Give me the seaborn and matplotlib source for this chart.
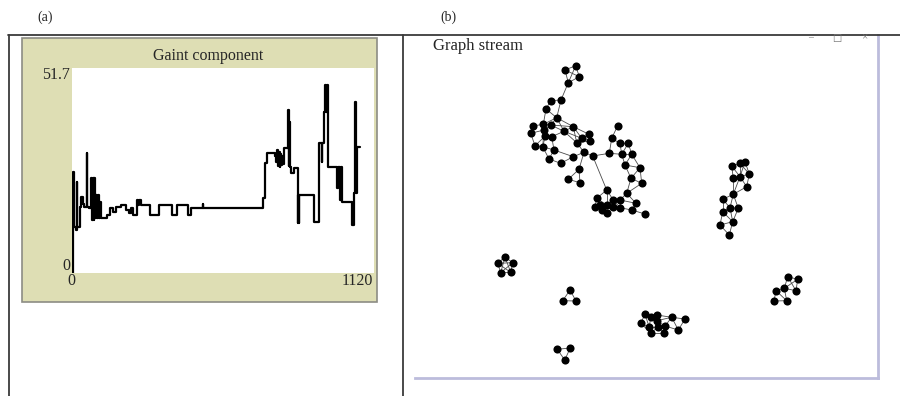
import matplotlib
matplotlib.use('Agg')
import matplotlib.pyplot as plt
import seaborn as sns
import pandas as pd
from matplotlib.patches import Rectangle
from matplotlib.lines import Line2D

sns.set_style('white')
plt.rcParams['font.family'] = ['Liberation Serif', 'DejaVu Serif']

# (a) tamanho da componente gigante ao longo dos ticks
ticks = [0, 2, 5, 8, 14, 17, 20, 30, 35, 40, 46, 54, 57, 62, 72, 76, 78, 80, 82,
         85, 88, 90, 93, 96, 99, 102, 106, 128, 140, 152, 165, 183, 200, 210, 218,
         228, 240, 245, 250, 255, 262, 288, 322, 370, 388, 430, 442, 484, 487, 708,
         714, 722, 752, 758, 761, 764, 767, 770, 773, 776, 779, 782, 786, 800, 803,
         806, 809, 812, 825, 837, 839, 841, 843, 899, 917, 926, 929, 935, 940, 943,
         946, 949, 951, 982, 985, 994, 997, 1003, 1040, 1044, 1050, 1054, 1058, 1067]
giant = [0.0, 14.2, 25.5, 11.7, 10.8, 23.0, 11.7, 16.7, 19.2, 17.5, 16.7, 30.2, 16.7,
         16.3, 23.9, 13.4, 23.9, 13.4, 23.9, 19.7, 13.8, 19.7, 13.8, 19.7, 13.8, 18.0,
         13.8, 14.6, 16.3, 15.5, 16.7, 17.1, 15.9, 15.1, 16.3, 14.6, 18.4, 17.1, 18.4,
         17.1, 17.1, 14.6, 17.1, 14.6, 17.1, 14.6, 16.4, 17.3, 16.4, 18.9, 27.7, 30.3,
         29.4, 28.0, 31.0, 27.0, 30.5, 26.8, 30.0, 27.2, 29.6, 27.5, 31.5, 41.1, 27.0,
         38.0, 26.8, 25.1, 26.4, 12.5, 19.7, 12.5, 19.7, 12.9, 32.7, 28.0, 32.7, 40.7,
         47.4, 40.7, 47.4, 40.7, 26.8, 21.5, 26.8, 18.5, 26.8, 18.0, 12.1, 20.1, 43.2,
         20.1, 31.9, 31.9]
x_max = 1120
y_max = 51.7

# (b) posicoes dos nos do grafo (coordenadas da janela)
node_x = [565, 575.7, 579.3, 568.3,
          561, 550.7, 546, 556.7, 532.7, 530.7, 543.3, 550.7, 544, 545.3, 551.7, 535,
          542.7, 554, 549, 560.7, 564, 573.3, 573.3, 581.7, 589, 590, 576.7, 584, 592.7,
          579, 568.3, 580,
          617.7, 611.7, 609.3, 620, 628.3, 621.7, 631.7, 625, 640, 631, 641.7, 626.7,
          606.7, 596.7, 600, 606.7, 613.3, 620, 595, 601.7, 607.3, 613.3, 620, 631.7,
          636, 645,
          731.7, 740, 745, 749.3, 733.3, 740, 746.7, 733.3, 722.7, 730, 738.3, 722.7,
          732.7, 720, 729.3,
          505, 497.7, 512.7, 500.7, 510.7,
          570, 562.7, 576,
          557.3, 570.3, 564.7,
          645, 650.7, 656.7, 656.7, 665, 671.7, 685, 678.3, 640.7, 649.3, 650.7, 658.3, 664,
          787.7, 797.7, 784.3, 796, 776, 774, 786.7]
node_y = [70, 65.7, 76.7, 82.7,
          100, 100.7, 109, 117.7, 126, 133.3, 124.3, 125, 130, 136, 136.7, 145.7,
          146.7, 150, 159, 163.3, 131.3, 126.7, 156.7, 138.3, 134.3, 141, 142.7, 152.3, 156,
          169.3, 179.3, 182.7,
          125.7, 138.3, 153.3, 143.3, 143.3, 154.3, 154.3, 165, 167.7, 178.3, 183.3, 193.3,
          190, 198.3, 205, 205, 200, 200, 206.7, 210, 212.7, 206.7, 207.7, 210,
          203.3, 214,
          166, 163.3, 161.7, 174, 178.3, 176.7, 186.7, 194.3, 199.3, 207.7, 208.3, 211.7,
          221.7, 225, 235,
          257, 263.3, 262.7, 272.7, 272.3,
          290, 300.7, 301,
          349.3, 348, 360,
          314.3, 316.7, 315, 320.7, 326, 317.3, 319, 330, 323.3, 327.3, 332.7, 327.3, 332.7,
          276.7, 279.3, 288.3, 290.7, 290.7, 301, 300.7]
edges = [(0, 1), (1, 2), (0, 2), (0, 3), (2, 3), (1, 3), (3, 4),
         (4, 5), (4, 7), (5, 6), (6, 7), (6, 10), (7, 10), (7, 11), (7, 20), (7, 21),
         (8, 10), (8, 9), (9, 12), (10, 11), (10, 12), (11, 12), (11, 20), (12, 13),
         (13, 14), (13, 15), (14, 17), (15, 16), (16, 17), (16, 18), (17, 18), (18, 19),
         (19, 22), (17, 22), (14, 20), (20, 21), (20, 26), (21, 23), (21, 24), (23, 24),
         (23, 25), (24, 25), (25, 26), (26, 27), (27, 28), (22, 27), (23, 26), (9, 15),
         (12, 16), (13, 16), (11, 21), (21, 26), (20, 23), (27, 29), (29, 30), (29, 31),
         (30, 31), (28, 34), (28, 44),
         (32, 33), (33, 34), (33, 35), (35, 36), (35, 37), (36, 38), (37, 38), (37, 39),
         (38, 39), (38, 40), (39, 40), (39, 41), (40, 41), (40, 42), (41, 42), (41, 43),
         (42, 43), (34, 37), (36, 37),
         (43, 49), (43, 56), (44, 45), (44, 47), (44, 48), (45, 46), (45, 50), (46, 47),
         (46, 51), (47, 48), (47, 52), (48, 49), (48, 53), (49, 54), (49, 56), (50, 51),
         (51, 52), (52, 53), (53, 54), (54, 55), (55, 56), (55, 57), (46, 52), (47, 53),
         (48, 54), (45, 47),
         (58, 59), (59, 60), (58, 62), (59, 63), (60, 61), (59, 61), (61, 63), (62, 63),
         (61, 64), (63, 64), (62, 65), (63, 65), (64, 65), (65, 66), (65, 67), (65, 68),
         (66, 67), (67, 68), (66, 69), (67, 69), (67, 70), (68, 70), (69, 70), (69, 71),
         (70, 71), (71, 72), (70, 72), (60, 63), (58, 63),
         (73, 74), (73, 75), (73, 76), (73, 77), (74, 75), (74, 76), (74, 77), (75, 76),
         (75, 77), (76, 77),
         (78, 79), (78, 80), (79, 80),
         (81, 82), (81, 83), (82, 83),
         (84, 85), (85, 86), (84, 92), (84, 93), (85, 93), (86, 87), (85, 87), (87, 95),
         (87, 89), (86, 89), (89, 90), (89, 91), (90, 91), (88, 91), (88, 89), (87, 88),
         (92, 93), (93, 94), (93, 95), (94, 95), (95, 96), (96, 88), (94, 96), (84, 87),
         (86, 95), (92, 94),
         (97, 98), (97, 99), (98, 99), (98, 100), (99, 100), (99, 101), (101, 102),
         (101, 103), (102, 103), (99, 103), (97, 100)]

W, H = 900, 396


def fx(px):
    return px / W


def fy(py):
    return 1 - py / H


fig = plt.figure(figsize=(9, 3.96), dpi=100)

# linhas da tabela
line_col = '#3a3a3a'
fig.add_artist(Line2D([fx(8), 1], [fy(35), fy(35)], color=line_col, lw=1.3))
fig.add_artist(Line2D([fx(9), fx(9)], [fy(35), 0], color=line_col, lw=1.3))
fig.add_artist(Line2D([fx(403), fx(403)], [fy(35), 0], color=line_col, lw=1.3))

fig.text(fx(45), fy(17), '(a)', ha='center', va='center', fontsize=10)
fig.text(fx(448), fy(17), '(b)', ha='center', va='center', fontsize=10)

# Painel (a): caixa bege do plot
fig.add_artist(Rectangle((fx(22), fy(302)), (377 - 22) / W, (302 - 38) / H,
                         transform=fig.transFigure, facecolor='#dedeb4',
                         edgecolor='#8c8c84', lw=1.2, zorder=0))

ax1 = fig.add_axes([fx(72), fy(273), (374 - 72) / W, (273 - 68) / H])
df = pd.DataFrame({'tick': ticks, 'giant': giant})
sns.lineplot(data=df, x='tick', y='giant', ax=ax1, color='black', lw=1.6,
             drawstyle='steps-post', estimator=None)
ax1.set_xlim(0, x_max)
ax1.set_ylim(0, y_max)
ax1.set_xticks([])
ax1.set_yticks([])
ax1.set_xlabel('')
ax1.set_ylabel('')
for s in ax1.spines.values():
    s.set_visible(False)

fig.text(fx(208), fy(56), 'Gaint component', ha='center', va='center', fontsize=11.5)
fig.text(fx(70), fy(75), str(y_max), ha='right', va='center', fontsize=11.5)
fig.text(fx(70), fy(266), '0', ha='right', va='center', fontsize=11.5)
fig.text(fx(71), fy(281), '0', ha='center', va='center', fontsize=11.5)
fig.text(fx(373), fy(281), str(x_max), ha='right', va='center', fontsize=11.5)

# Painel (b): janela do Graph stream
ax2 = fig.add_axes([fx(415), fy(378), (878 - 415) / W, (378 - 35) / H])
for i, j in edges:
    ax2.plot([node_x[i], node_x[j]], [node_y[i], node_y[j]], color='#4a4a4a',
             lw=0.6, zorder=1)
sns.scatterplot(x=node_x, y=node_y, ax=ax2, color='black', s=34, linewidth=0,
                zorder=2)
ax2.set_xlim(415, 878)
ax2.set_ylim(378, 35)
ax2.set_xticks([])
ax2.set_yticks([])
ax2.spines['left'].set_visible(False)
ax2.spines['top'].set_visible(False)
ax2.spines['right'].set_color('#bcbcdc')
ax2.spines['bottom'].set_color('#bcbcdc')
ax2.spines['right'].set_linewidth(2)
ax2.spines['bottom'].set_linewidth(2)

fig.text(fx(433), fy(46), 'Graph stream', ha='left', va='center', fontsize=12)
fig.text(fx(811), fy(38), '\u2013', ha='center', va='center', fontsize=7, color='#777777')
fig.text(fx(837), fy(38), '\u25a1', ha='center', va='center', fontsize=7, color='#777777',
         family='DejaVu Sans')
fig.text(fx(864), fy(38), '\u00d7', ha='center', va='center', fontsize=8, color='#777777')

plt.savefig('out.png', dpi=100)
